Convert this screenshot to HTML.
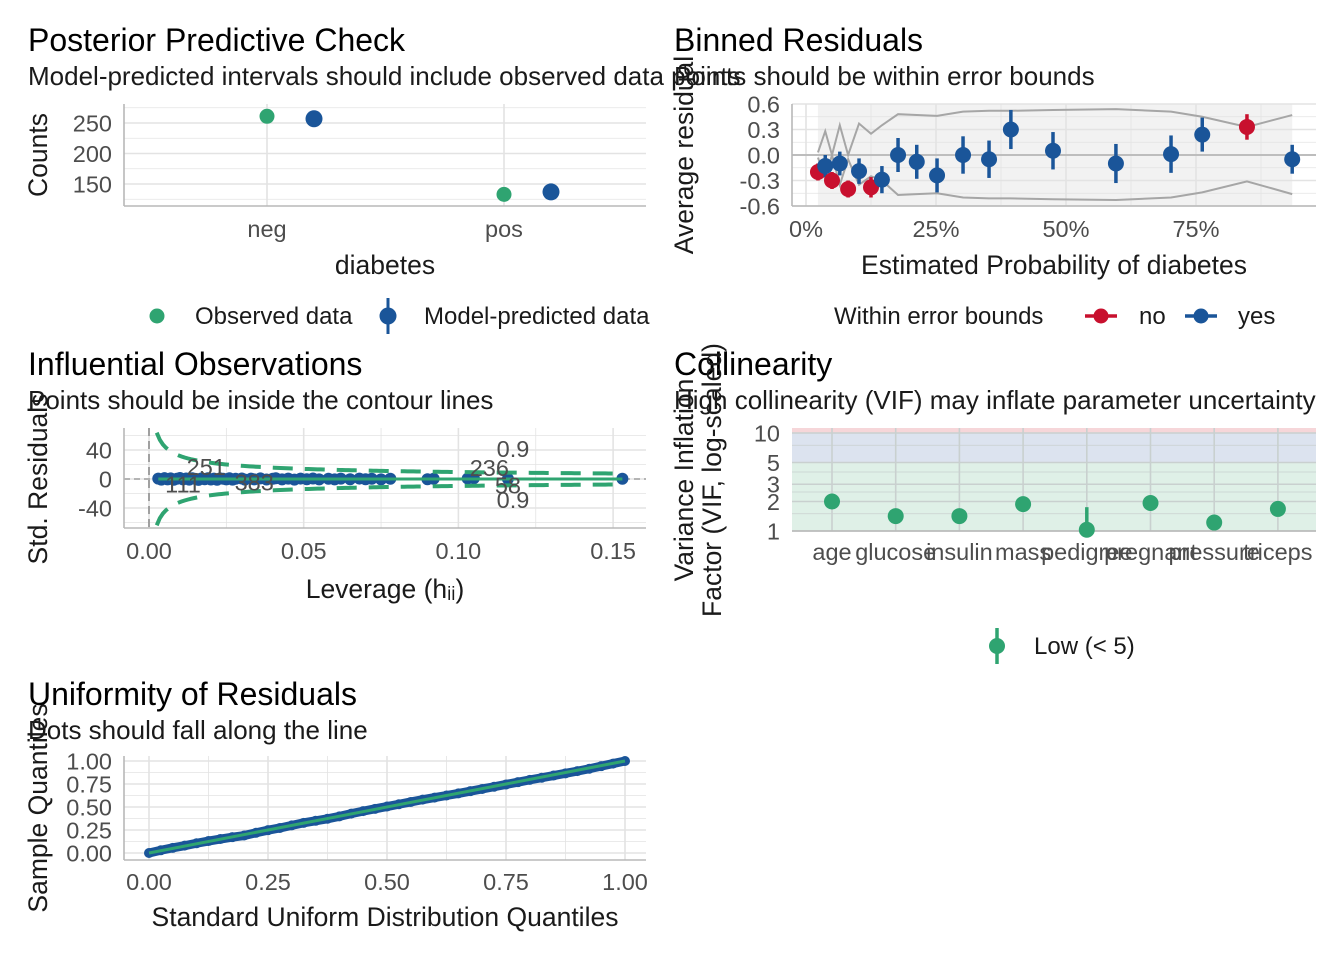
<!DOCTYPE html>
<html><head><meta charset="utf-8"><style>
body{margin:0;background:#fff}
svg{display:block;font-family:"Liberation Sans",Arial,sans-serif}
.t{font-size:32px;fill:#000}
.s{font-size:26px;fill:#1a1a1a}
.tk{font-size:23.5px;fill:#4d4d4d}
.at{font-size:26.5px;fill:#1a1a1a}
.lg{font-size:24px;fill:#1a1a1a}
</style></head><body>
<svg id="c" width="1344" height="960" viewBox="0 0 1344 960"></svg>
<script>
// Panel 1 data
const ppcCats=["neg","pos"];
const ppcObserved=[261,133];
const ppcPredicted=[257,137];
const ppcTicks=[150,200,250];
// Panel 2 data
const brX=[2.3,3.7,5,6.5,8.1,10.2,12.5,14.6,17.7,21.3,25.2,30.2,35.2,39.4,47.5,59.6,70.2,76.2,84.8,93.5];
const brY=[-0.2,-0.13,-0.3,-0.1,-0.4,-0.19,-0.38,-0.29,0.0,-0.08,-0.24,0.0,-0.05,0.3,0.05,-0.1,0.01,0.24,0.33,-0.05];
const brSE=[0.1,0.13,0.1,0.14,0.1,0.15,0.12,0.16,0.2,0.2,0.2,0.22,0.22,0.23,0.22,0.23,0.22,0.2,0.15,0.17];
const brIn=[0,1,0,1,0,1,0,1,1,1,1,1,1,1,1,1,1,1,0,1];
const brUpper=[0.03,0.28,0.0,0.35,0.0,0.37,0.25,0.35,0.48,0.47,0.46,0.51,0.52,0.52,0.53,0.54,0.51,0.45,0.33,0.47];
const brLower=[-0.03,-0.28,0.0,-0.35,-0.05,-0.35,-0.25,-0.3,-0.47,-0.46,-0.45,-0.5,-0.51,-0.51,-0.52,-0.53,-0.5,-0.44,-0.31,-0.46];
const brXTicks=[0,25,50,75];
const brYTicks=[-0.6,-0.3,0,0.3,0.6];
// Panel 3 data
const levX=[0.003,0.004,0.005,0.006,0.007,0.008,0.009,0.01,0.011,0.012,0.013,0.014,0.015,0.016,0.017,0.018,0.019,0.02,0.021,0.022,0.023,0.024,0.025,0.026,0.027,0.028,0.03,0.031,0.033,0.034,0.036,0.038,0.04,0.041,0.043,0.045,0.047,0.049,0.051,0.053,0.055,0.058,0.06,0.062,0.065,0.068,0.07,0.072,0.075,0.078,0.09,0.092,0.103,0.105,0.116,0.153];
const levRes=[0.5,-0.8,1.2,-0.5,0.9,-1.1,0.4,1.3,-0.6,0.7,-0.9,1,0.2,-1.2,0.8,-0.4,1.1,-0.7,0.5,-1,0.9,0.3,-0.6,1,-0.8,0.4,0.7,-0.9,0.6,-0.5,0.9,-0.7,0.4,1,-0.6,0.5,-0.8,0.6,-0.4,0.7,-0.5,0.3,-0.6,0.5,-0.4,0.6,-0.3,0.4,-0.5,0.3,-0.4,0.3,0.6,1.0,0.2,0.3];
const levLabels=[["251",0.0185,15],["111",0.011,-9],["383",0.034,-6],["236",0.110,14],["58",0.116,-10]];
const levXTicks=[0,0.05,0.1,0.15];
const levYTicks=[-40,0,40];
const cookC=3.2;
// Panel 4 data
const vifCats=["age","glucose","insulin","mass","pedigree","pregnant","pressure","triceps"];
const vifVals=[2.0,1.42,1.42,1.88,1.03,1.93,1.22,1.68];
const vifHi=[2.0,1.42,1.42,1.88,1.75,1.93,1.22,1.68];
const vifTicks=[1,2,3,5,10];
// Panel 5 data
const qqTheo=[0,0.025,0.05,0.075,0.1,0.125,0.15,0.175,0.2,0.225,0.25,0.275,0.3,0.325,0.35,0.375,0.4,0.425,0.45,0.475,0.5,0.525,0.55,0.575,0.6,0.625,0.65,0.675,0.7,0.725,0.75,0.775,0.8,0.825,0.85,0.875,0.9,0.925,0.95,0.975,1];
const qqSample=[0,0.03,0.056,0.08,0.106,0.13,0.152,0.172,0.19,0.22,0.248,0.272,0.3,0.328,0.35,0.372,0.398,0.428,0.455,0.48,0.505,0.53,0.555,0.58,0.602,0.625,0.648,0.672,0.696,0.72,0.745,0.77,0.795,0.818,0.842,0.866,0.89,0.916,0.944,0.972,1];
const qqTicks=[0,0.25,0.5,0.75,1];

const svg=document.getElementById('c');
const NS='http://www.w3.org/2000/svg';
function el(tag,attrs,parent,txt){const e=document.createElementNS(NS,tag);for(const k in attrs)e.setAttribute(k,attrs[k]);if(txt!==undefined)e.textContent=txt;(parent||svg).appendChild(e);return e;}
function text(x,y,s,cls,anchor,name,rot){const e=el('text',{x:x,y:y,class:cls,'text-anchor':anchor||'start'},svg,s);if(rot)e.setAttribute('transform','rotate(-90 '+x+' '+y+')');

return e;}
function line(x1,y1,x2,y2,stroke,w,name,extra){const e=el('line',Object.assign({x1:x1,y1:y1,x2:x2,y2:y2,stroke:stroke,'stroke-width':w},extra||{}));

return e;}
function dot(x,y,r,fill,name){const e=el('circle',{cx:x,cy:y,r:r,fill:fill});

return e;}
const GRID='#e3e3e3',AX='#b8b8b8',GREEN='#2fa471',BLUE='#1a5599',RED='#c8102e';

// ===== Panel 1 =====
text(28,51,'Posterior Predictive Check','t','start','ppc-title');
text(28,85,'Model-predicted intervals should include observed data points','s','start','ppc-subtitle');
{const L=124,R=646,T=104,B=206;
const sy=v=>123-(v-250)*30.5/50;
const sx=i=>[267,504][i];
for(let v=125;v<=275;v+=25){line(L,sy(v),R,sy(v),GRID,v%50==0?1.6:0.8,'ppc-gridline');}
ppcCats.forEach((c,i)=>{line(sx(i),T,sx(i),B,GRID,1.6,'ppc-x-gridline');text(sx(i),237,c,'tk','middle','ppc-x-tick-'+c);});
ppcTicks.forEach(v=>text(112,sy(v)+8.5,String(v),'tk','end','ppc-y-tick'));
line(L,T,L,B,AX,1.6,'ppc-y-axis');line(L,B,R,B,AX,1.6,'ppc-x-axis');
ppcCats.forEach((c,i)=>{dot(sx(i),sy(ppcObserved[i]),7.5,GREEN,'ppc-observed-'+c);dot(sx(i)+47,sy(ppcPredicted[i]),8.5,BLUE,'ppc-predicted-'+c);});
text(47,155,'Counts','at','middle','ppc-y-title',true);
text(385,274,'diabetes','at','middle','ppc-x-title');
dot(157,316,7.5,GREEN,'legend-observed-key');text(195,324,'Observed data','lg','start','legend-observed-label');
line(388,298,388,334,BLUE,3,'legend-predicted-bar');dot(388,316,8.5,BLUE,'legend-predicted-key');text(424,324,'Model-predicted data','lg','start','legend-predicted-label');
}
// ===== Panel 2 =====
text(674,51,'Binned Residuals','t','start','binned-title');
text(674,85,'Points should be within error bounds','s','start','binned-subtitle');
{const L=792,R=1316,T=104,B=206;
const sx=v=>806+v*5.2, sy=v=>155-v*25.5/0.3*1;
el('rect',{x:sx(brX[0]),y:T,width:sx(brX[brX.length-1])-sx(brX[0]),height:B-T,fill:'#f2f2f2'});
for(let v=-0.6;v<=0.61;v+=0.15){line(L,sy(v),R,sy(v),GRID,Math.abs(Math.round(v/0.15))%2==0?1.6:0.8,'binned-y-gridline');}
for(let v=0;v<=100;v+=12.5){if(sx(v)<=R)line(sx(v),T,sx(v),B,GRID,v%25==0?1.6:0.8,'binned-x-gridline');}
line(L,sy(0),R,sy(0),'#bdbdbd',2,'binned-zero-line');
brXTicks.forEach(v=>text(sx(v),237,v+'%','tk','middle','binned-x-tick'));
brYTicks.forEach(v=>text(780,sy(v)+8.5,v.toFixed(1),'tk','end','binned-y-tick'));
line(L,T,L,B,AX,1.6,'binned-y-axis');line(L,B,R,B,AX,1.6,'binned-x-axis');
const pu=brX.map((x,i)=>sx(x)+','+sy(brUpper[i])).join(' ');
const pl=brX.map((x,i)=>sx(x)+','+sy(brLower[i])).join(' ');
el('polyline',{points:pu,fill:'none',stroke:'#a6a6a6','stroke-width':2});
el('polyline',{points:pl,fill:'none',stroke:'#a6a6a6','stroke-width':2});
brX.forEach((x,i)=>{const c=brIn[i]?BLUE:RED;line(sx(x),sy(brY[i]-brSE[i]),sx(x),sy(brY[i]+brSE[i]),c,3.5,'binned-errorbar');dot(sx(x),sy(brY[i]),8,c,'binned-point');});
text(693,155,'Average residual','at','middle','binned-y-title',true);
text(1054,274,'Estimated Probability of diabetes','at','middle','binned-x-title');
text(834,324,'Within error bounds','lg','start','legend-bounds-title');
line(1085,316,1117,316,RED,3.5,'legend-no-line');dot(1101,316,7.5,RED,'legend-no-key');text(1139,324,'no','lg','start','legend-no-label');
line(1185,316,1217,316,BLUE,3.5,'legend-yes-line');dot(1201,316,7.5,BLUE,'legend-yes-key');text(1238,324,'yes','lg','start','legend-yes-label');
}
// ===== Panel 3 =====
text(28,375,'Influential Observations','t','start','influential-title');
text(28,409,'Points should be inside the contour lines','s','start','influential-subtitle');
{const L=124,R=646,T=428,B=528;
const sx=v=>149+v*154.7/0.05, sy=v=>479-v*29/40;
for(let v=-60;v<=60;v+=20){if(sy(v)>=T&&sy(v)<=B)line(L,sy(v),R,sy(v),GRID,v%40==0?1.6:0.8,'influential-y-gridline');}
for(let v=0;v<=0.16;v+=0.025){line(sx(v),T,sx(v),B,GRID,Math.round(v/0.025)%2==0?1.6:0.8,'influential-x-gridline');}
levXTicks.forEach(v=>text(sx(v),559,v.toFixed(2),'tk','middle','influential-x-tick'));
levYTicks.forEach(v=>text(112,sy(v)+8.5,String(v),'tk','end','influential-y-tick'));
line(L,sy(0),R,sy(0),'#a0a0a0',1.6,'influential-zero-line',{'stroke-dasharray':'6 4'});
line(sx(0),T,sx(0),B,'#a0a0a0',2,'influential-zero-vline',{'stroke-dasharray':'8 5'});
line(L,T,L,B,AX,1.6,'influential-y-axis');line(L,B,R,B,AX,1.6,'influential-x-axis');
levX.forEach((x,i)=>dot(sx(x),sy(levRes[i]),6,BLUE,'influential-point'));
const up=[],lo=[];for(let h=0.0025;h<=0.153;h+=0.001){const v=cookC*Math.sqrt((1-h)/h);up.push(sx(h)+','+Math.max(T,sy(v)));lo.push(sx(h)+','+Math.min(B,sy(-v)));}
el('polyline',{points:up.join(' '),fill:'none',stroke:GREEN,'stroke-width':4,'stroke-dasharray':'20 12'});
el('polyline',{points:lo.join(' '),fill:'none',stroke:GREEN,'stroke-width':4,'stroke-dasharray':'20 12'});
line(sx(0.003),sy(0),sx(0.153),sy(0),GREEN,3,'influential-smooth-line');
levLabels.forEach(l=>text(sx(l[1]),sy(l[2])+7,l[0],'tk','middle','influential-point-label').setAttribute('fill',BLUE));
text(513,457,'0.9','tk','middle','cook-label-upper').setAttribute('fill',GREEN);
text(513,508,'0.9','tk','middle','cook-label-lower').setAttribute('fill',GREEN);
text(47,479,'Std. Residuals','at','middle','influential-y-title',true);
text(385,598,'Leverage (h\u1d62\u1d62)','at','middle','influential-x-title');
}
// ===== Panel 4 =====
text(674,375,'Collinearity','t','start','collinearity-title');
text(674,409,'High collinearity (VIF) may inflate parameter uncertainty','s','start','collinearity-subtitle');
{const L=792,R=1316,T=428,B=531;
const sy=v=>531-Math.log10(v)*98;
const sx=i=>832+i*63.7;
el('rect',{x:L,y:T,width:R-L,height:sy(10)-T,fill:'#f6d6d9'});
el('rect',{x:L,y:sy(10),width:R-L,height:sy(5)-sy(10),fill:'#dce3ef'});
el('rect',{x:L,y:sy(5),width:R-L,height:B-sy(5),fill:'#dff0e7'});
[1,1.5,2,2.5,3,4,5,7.5,10].forEach(v=>line(L,sy(v),R,sy(v),'#c9d0cf',vifTicks.includes(v)?1.6:0.8,'vif-y-gridline'));
vifCats.forEach((c,i)=>{line(sx(i),T,sx(i),B,'#c9d0cf',1.6,'vif-x-gridline');text(sx(i),560,c,'tk','middle','vif-x-tick-'+c);});
vifTicks.forEach(v=>text(780,sy(v)+8.5,String(v),'tk','end','vif-y-tick'));
line(L,B,R,B,AX,1.6,'vif-x-axis');
vifCats.forEach((c,i)=>{line(sx(i),sy(vifVals[i]),sx(i),sy(vifHi[i]),GREEN,3.5,'vif-errorbar');dot(sx(i),sy(vifVals[i]),8,GREEN,'vif-point-'+c);});
text(693,480,'Variance Inflation','at','middle','vif-y-title-1',true);
text(721,480,'Factor (VIF, log-scaled)','at','middle','vif-y-title-2',true);
line(997,628,997,664,GREEN,3.5,'legend-low-bar');dot(997,646,8,GREEN,'legend-low-key');text(1034,654,'Low (< 5)','lg','start','legend-low-label');
}
// ===== Panel 5 =====
text(28,705,'Uniformity of Residuals','t','start','uniformity-title');
text(28,739,'Dots should fall along the line','s','start','uniformity-subtitle');
{const L=124,R=646,T=756,B=860;
const sx=v=>149+v*476, sy=v=>853-v*92;
for(let v=0;v<=1.01;v+=0.125){line(L,sy(v),R,sy(v),GRID,Math.round(v/0.125)%2==0?1.6:0.8,'uniformity-y-gridline');line(sx(v),T,sx(v),B,GRID,Math.round(v/0.125)%2==0?1.6:0.8,'uniformity-x-gridline');}
qqTicks.forEach(v=>{text(sx(v),890,v.toFixed(2),'tk','middle','uniformity-x-tick');text(112,sy(v)+8.5,v.toFixed(2),'tk','end','uniformity-y-tick');});
line(L,T,L,B,AX,1.6,'uniformity-y-axis');line(L,B,R,B,AX,1.6,'uniformity-x-axis');
el('polyline',{points:qqTheo.map((x,i)=>sx(x)+','+sy(qqSample[i])).join(' '),fill:'none',stroke:BLUE,'stroke-width':9,'stroke-linecap':'round'});
qqTheo.forEach((x,i)=>dot(sx(x),sy(qqSample[i]),5,BLUE,'uniformity-point'));
line(sx(0),sy(0),sx(1),sy(1),GREEN,3,'uniformity-reference-line');
text(47,808,'Sample Quantiles','at','middle','uniformity-y-title',true);
text(385,926,'Standard Uniform Distribution Quantiles','at','middle','uniformity-x-title');
}
</script>
</body></html>
